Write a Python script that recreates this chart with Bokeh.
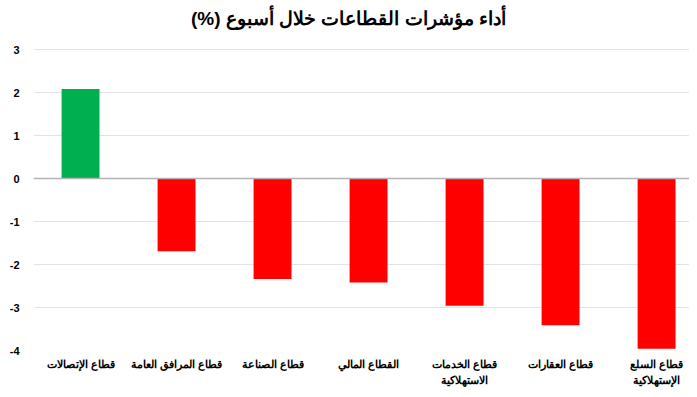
from bokeh.plotting import figure
from bokeh.models import Range1d, Span, FixedTicker, Label
from bokeh.embed import file_html
from bokeh.resources import INLINE

# Data
categories = ["قطاع الإتصالات", "قطاع المرافق العامة", "قطاع الصناعة", "القطاع المالي",
              "قطاع الخدمات\nالاستهلاكية", "قطاع العقارات", "قطاع السلع\nالإستهلاكية"]
values = [2.08, -1.69, -2.34, -2.42, -2.96, -3.41, -3.96]
y_ticks = [-4, -3, -2, -1, 0, 1, 2, 3]
y_tick_labels = ["-4", "-3", "-2", "-1", "0", "1", "2", "3"]
title_text = "\u200F" + "أداء مؤشرات القطاعات خلال أسبوع (%)" + "\u200F"

xs = list(range(len(categories)))
colors = ["#00B050" if v >= 0 else "#FF0000" for v in values]

FONT = "Liberation Sans"
X0, X1 = -0.49, 6.343
Y0, Y1 = -4, 4.14   # headroom above 3 holds the title

p = figure(frame_width=656, frame_height=350, output_backend="svg", toolbar_location=None,
           x_range=Range1d(X0, X1), y_range=Range1d(Y0, Y1),
           min_border_left=33, min_border_right=0, min_border_top=0, min_border_bottom=38)

p.vbar(x=xs, top=values, bottom=0, width=0.395, fill_color=colors, line_color=None)

p.add_layout(Span(location=0, dimension="width", line_color="#b3b3b3", line_width=1.5))

p.add_layout(Label(x=2.79, y=3.72, text=title_text, text_align="center", text_baseline="middle",
                   text_font=FONT, text_font_size="19px", text_font_style="bold",
                   text_color="#000000"))

p.outline_line_color = None
p.background_fill_color = "white"
p.border_fill_color = "white"

p.xgrid.grid_line_color = None
p.ygrid.grid_line_color = "#e3e3e3"
p.ygrid.grid_line_width = 1
p.ygrid.ticker = FixedTicker(ticks=y_ticks)

p.yaxis.ticker = FixedTicker(ticks=y_ticks)
p.yaxis.major_label_overrides = dict(zip(y_ticks, y_tick_labels))
p.yaxis.axis_line_color = None
p.yaxis.major_tick_line_color = None
p.yaxis.minor_tick_line_color = None
p.yaxis.major_tick_out = 0
p.yaxis.major_tick_in = 0
p.yaxis.major_label_standoff = 14
p.yaxis.major_label_text_font = FONT
p.yaxis.major_label_text_font_size = "11px"
p.yaxis.major_label_text_font_style = "bold"
p.yaxis.major_label_text_color = "#000000"

p.xaxis.ticker = FixedTicker(ticks=xs)
p.xaxis.major_label_overrides = dict(zip(xs, categories))
p.xaxis.axis_line_color = None
p.xaxis.major_tick_line_color = None
p.xaxis.minor_tick_line_color = None
p.xaxis.major_tick_out = 0
p.xaxis.major_tick_in = 0
p.xaxis.major_label_standoff = 7
p.xaxis.major_label_text_font = FONT
p.xaxis.major_label_text_font_size = "11px"
p.xaxis.major_label_text_font_style = "bold"
p.xaxis.major_label_text_color = "#000000"
p.xaxis.major_label_text_line_height = 1.4

open("out.html", "w").write(file_html(p, INLINE))
